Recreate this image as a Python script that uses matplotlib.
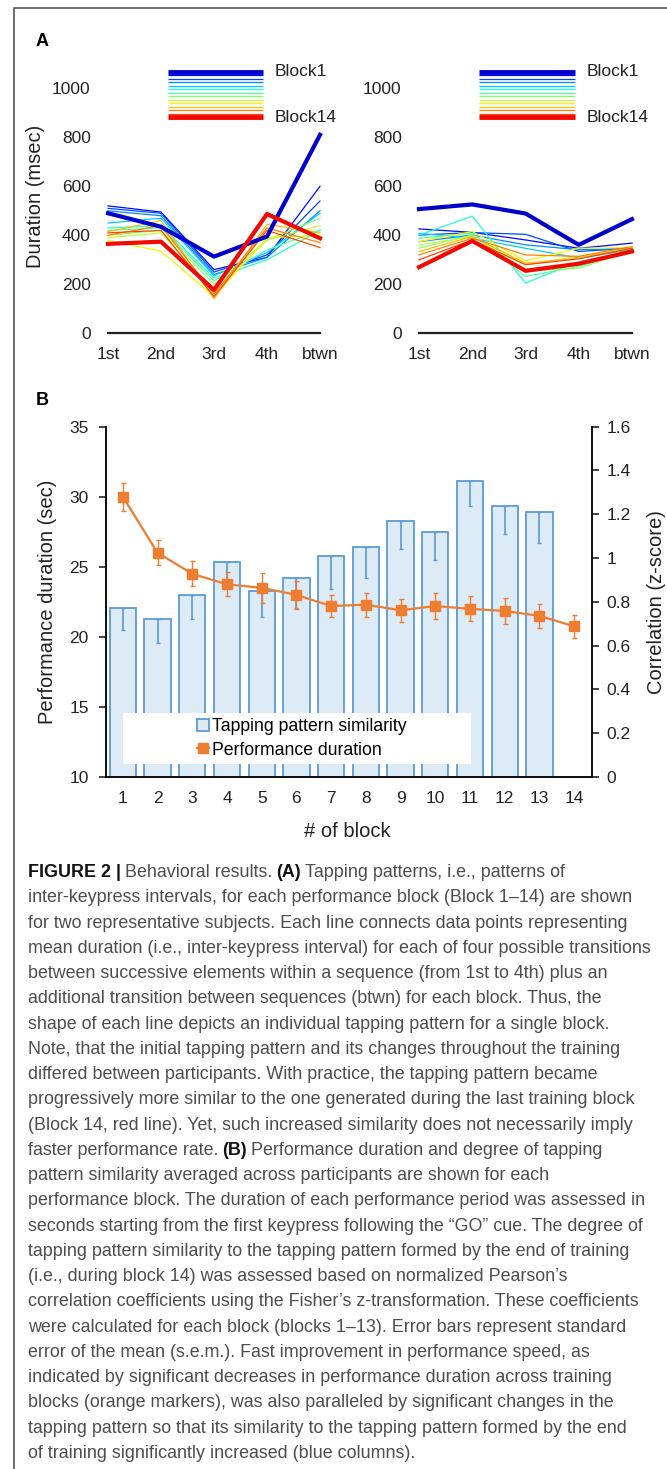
import numpy as np
import matplotlib.pyplot as plt
from matplotlib.ticker import FuncFormatter
from matplotlib.lines import Line2D
from matplotlib.patches import Patch, Rectangle

plt.rcParams['font.family'] = ['Liberation Sans', 'DejaVu Sans']

transitions = ['1st', '2nd', '3rd', '4th', 'btwn']
blocks = np.arange(1, 15)

# inter-keypress intervals (msec), one row per block (1..14)
subj1 = [
    [490, 435, 313, 395, 810],
    [520, 495, 260, 310, 600],
    [510, 490, 250, 320, 540],
    [500, 480, 240, 310, 500],
    [450, 470, 235, 330, 490],
    [430, 440, 225, 300, 420],
    [420, 430, 215, 340, 420],
    [400, 420, 200, 380, 470],
    [390, 410, 170, 380, 440],
    [380, 335, 150, 390, 400],
    [415, 460, 140, 445, 410],
    [400, 440, 160, 430, 370],
    [410, 420, 150, 420, 350],
    [365, 374, 177, 487, 388],
]
subj2 = [
    [507, 526, 489, 361, 466],
    [426, 412, 381, 347, 368],
    [401, 411, 404, 334, 347],
    [374, 401, 361, 341, 347],
    [408, 388, 347, 307, 341],
    [401, 478, 205, 293, 334],
    [388, 408, 232, 273, 336],
    [347, 401, 253, 266, 336],
    [361, 395, 280, 314, 347],
    [374, 415, 296, 347, 350],
    [334, 395, 286, 307, 347],
    [320, 388, 320, 314, 354],
    [300, 381, 280, 304, 347],
    [270, 377, 255, 284, 334],
]

# panel B: performance duration (sec) and tapping pattern similarity (z)
duration = [30.0, 26.0, 24.5, 23.75, 23.5, 23.0, 22.2, 22.3, 21.9, 22.2, 22.0, 21.85, 21.5, 20.75]
duration_sem = [1.0, 0.9, 0.9, 0.86, 1.05, 1.0, 0.8, 0.86, 0.83, 0.93, 0.9, 0.95, 0.86, 0.83]
similarity = [0.77, 0.72, 0.83, 0.98, 0.85, 0.91, 1.01, 1.05, 1.17, 1.12, 1.35, 1.24, 1.21]
similarity_sem = [0.10, 0.11, 0.11, 0.10, 0.12, 0.14, 0.15, 0.14, 0.13, 0.13, 0.11, 0.13, 0.14]

caption = [
    [('FIGURE 2 |', True), ('Behavioral results.', False), ('(A)', True),
     ('Tapping patterns, i.e., patterns of', False)],
    [('inter-keypress intervals, for each performance block (Block 1\u201314) are shown', False)],
    [('for two representative subjects. Each line connects data points representing', False)],
    [('mean duration (i.e., inter-keypress interval) for each of four possible transitions', False)],
    [('between successive elements within a sequence (from 1st to 4th) plus an', False)],
    [('additional transition between sequences (btwn) for each block. Thus, the', False)],
    [('shape of each line depicts an individual tapping pattern for a single block.', False)],
    [('Note, that the initial tapping pattern and its changes throughout the training', False)],
    [('differed between participants. With practice, the tapping pattern became', False)],
    [('progressively more similar to the one generated during the last training block', False)],
    [('(Block 14, red line). Yet, such increased similarity does not necessarily imply', False)],
    [('faster performance rate.', False), ('(B)', True),
     ('Performance duration and degree of tapping', False)],
    [('pattern similarity averaged across participants are shown for each', False)],
    [('performance block. The duration of each performance period was assessed in', False)],
    [('seconds starting from the first keypress following the \u201cGO\u201d cue. The degree of', False)],
    [('tapping pattern similarity to the tapping pattern formed by the end of training', False)],
    [('(i.e., during block 14) was assessed based on normalized Pearson\u2019s', False)],
    [('correlation coefficients using the Fisher\u2019s z-transformation. These coefficients', False)],
    [('were calculated for each block (blocks 1\u201313). Error bars represent standard', False)],
    [('error of the mean (s.e.m.). Fast improvement in performance speed, as', False)],
    [('indicated by significant decreases in performance duration across training', False)],
    [('blocks (orange markers), was also paralleled by significant changes in the', False)],
    [('tapping pattern so that its similarity to the tapping pattern formed by the end', False)],
    [('of training significantly increased (blue columns).', False)],
]

W, H = 667, 1469
fig = plt.figure(figsize=(W / 100, H / 100), dpi=100)

colors = plt.cm.jet(np.linspace(0.07, 0.9, 14))


def tapping_panel(rect, data):
    ax = fig.add_axes(rect)
    x = np.arange(len(transitions))
    for i, row in enumerate(data):
        thick = i in (0, len(data) - 1)
        ax.plot(x, row, color=colors[i], lw=3.0 if thick else 0.9,
                zorder=3 if thick else 2, clip_on=False)
    ax.set_xlim(0, 4)
    ax.set_ylim(0, 1120)
    ax.set_yticks([0, 200, 400, 600, 800, 1000])
    ax.set_xticks(x)
    ax.set_xticklabels(transitions)
    for s in ['left', 'right', 'top']:
        ax.spines[s].set_visible(False)
    ax.spines['bottom'].set_linewidth(1.6)
    ax.spines['bottom'].set_color('#222222')
    ax.tick_params(axis='y', length=0, pad=12.5, labelsize=12.5, colors='#222222')
    ax.tick_params(axis='x', length=0, pad=10, labelsize=12.5, colors='#222222')
    ax.patch.set_visible(False)
    # colour key, block 1 on top down to block 14
    ys = np.linspace(0.953, 0.788, 14)
    for i in range(14):
        thick = i in (0, 13)
        ax.plot([0.283, 0.731], [ys[i], ys[i]], transform=ax.transAxes,
                color=colors[i], lw=3.5 if thick else 0.9, clip_on=False,
                solid_capstyle='butt')
    ax.text(0.788, ys[0], 'Block1', transform=ax.transAxes, fontsize=12.5,
            va='center', ha='left', color='#222222')
    ax.text(0.788, ys[-1], 'Block14', transform=ax.transAxes, fontsize=12.5,
            va='center', ha='left', color='#222222')
    return ax


a_bottom = (H - 333.3) / H
a_height = 274.4 / H
axA1 = tapping_panel([108 / W, a_bottom, 212 / W, a_height], subj1)
axA1.set_ylabel('Duration (msec)', fontsize=14.5, color='#222222')
axA1.yaxis.set_label_coords(-0.297, 0.5)
axA2 = tapping_panel([419 / W, a_bottom, 213 / W, a_height], subj2)

# panel B
axB = fig.add_axes([105.5 / W, (H - 777) / H, 486 / W, 350.3 / H])
axB2 = axB.twinx()
axB.set_zorder(axB2.get_zorder() + 1)
axB.patch.set_visible(False)

bar_blue = '#5b9bd5'
orange = '#ed7d31'
axB2.bar(blocks[:len(similarity)], similarity, width=0.76, color='#ddebf7',
         edgecolor=bar_blue, linewidth=1.3)
axB2.errorbar(blocks[:len(similarity)], similarity,
              yerr=[similarity_sem, np.zeros(len(similarity))],
              fmt='none', ecolor=bar_blue, elinewidth=1.2, capsize=1.5)
axB.errorbar(blocks, duration, yerr=duration_sem, color=orange, lw=1.6,
             marker='s', markersize=7.5, elinewidth=1.0, capsize=1.8,
             ecolor=orange)

axB.set_xlim(0.5, 14.5)
axB.set_ylim(10, 35)
axB2.set_ylim(0, 1.6)
axB.set_yticks(np.arange(10, 36, 5))
axB2.set_yticks(np.arange(0, 1.61, 0.2))
axB2.yaxis.set_major_formatter(FuncFormatter(lambda v, p: '%g' % round(v, 1)))
axB.set_xticks(blocks)
for a in (axB, axB2):
    a.spines['top'].set_visible(False)
    for s in ['left', 'right', 'bottom']:
        a.spines[s].set_linewidth(1.3)
        a.spines[s].set_color('#111111')
axB.tick_params(axis='x', length=0, pad=10, labelsize=12.5, colors='#222222')
axB.tick_params(axis='y', length=5, width=1.2, pad=7, labelsize=12.5, colors='#222222')
axB2.tick_params(axis='y', length=5, width=1.2, pad=6, labelsize=12.5, colors='#222222')
axB.set_xlabel('# of block', fontsize=14.5, color='#222222')
axB.xaxis.set_label_coords(0.497, -0.128)
axB.set_ylabel('Performance duration (sec)', fontsize=14.5, color='#222222')
axB.yaxis.set_label_coords(-0.0998, 0.5)
axB2.set_ylabel('Correlation (z-score)', fontsize=14.5, color='#222222')
axB2.yaxis.set_label_coords(1.114, 0.5)

axB.add_patch(Rectangle((0.036, 0.037), 0.717, 0.146, transform=axB.transAxes,
                        facecolor='white', edgecolor='none', zorder=4))
handles = [Patch(facecolor='#ddebf7', edgecolor=bar_blue, linewidth=1.3),
           Line2D([], [], color=orange, marker='s', markersize=7, lw=1.6)]
leg = axB.legend(handles, ['Tapping pattern similarity', 'Performance duration'],
                 loc='center left', bbox_to_anchor=(0.17, 0.11), frameon=False,
                 fontsize=12.7, handlelength=0.7, handleheight=0.7,
                 handletextpad=0.15, labelspacing=0.35, borderpad=0)
leg.set_zorder(5)

# overlay in pixel units for the frame, panel letters and the caption
over = fig.add_axes([0, 0, 1, 1])
over.set_xlim(0, W)
over.set_ylim(H, 0)
over.axis('off')
over.plot([14, 14, W], [H, 8, 8], color='#555555', lw=1.2, clip_on=False)
over.text(42, 41, 'A', fontsize=13, fontweight='bold', ha='center', va='center')
over.text(42, 400, 'B', fontsize=13, fontweight='bold', ha='center', va='center')

cap_size = 13.0
cap_texts = []
line_ends = []
for i, line in enumerate(caption):
    y = 877 + i * 25.26
    prev = None
    for seg, bold in line:
        kw = dict(fontsize=cap_size, va='baseline', ha='left',
                  color='#111111' if bold else '#4d4d4d',
                  fontweight='bold' if bold else 'normal')
        if prev is None:
            prev = over.text(28, y, seg, **kw)
        else:
            prev = over.annotate(seg, xy=(1, y), xycoords=(prev, 'data'),
                                 xytext=(4, 0), textcoords='offset pixels', **kw)
        cap_texts.append(prev)
    line_ends.append(prev)

# shrink the caption so its longest line ends at x = 649 px
fig.canvas.draw()
r = fig.canvas.get_renderer()
widest = max(t.get_window_extent(r).x1 for t in line_ends) - 28
for t in cap_texts:
    t.set_fontsize(cap_size * (649 - 28) / widest)

fig.savefig('out.png', dpi=100)
